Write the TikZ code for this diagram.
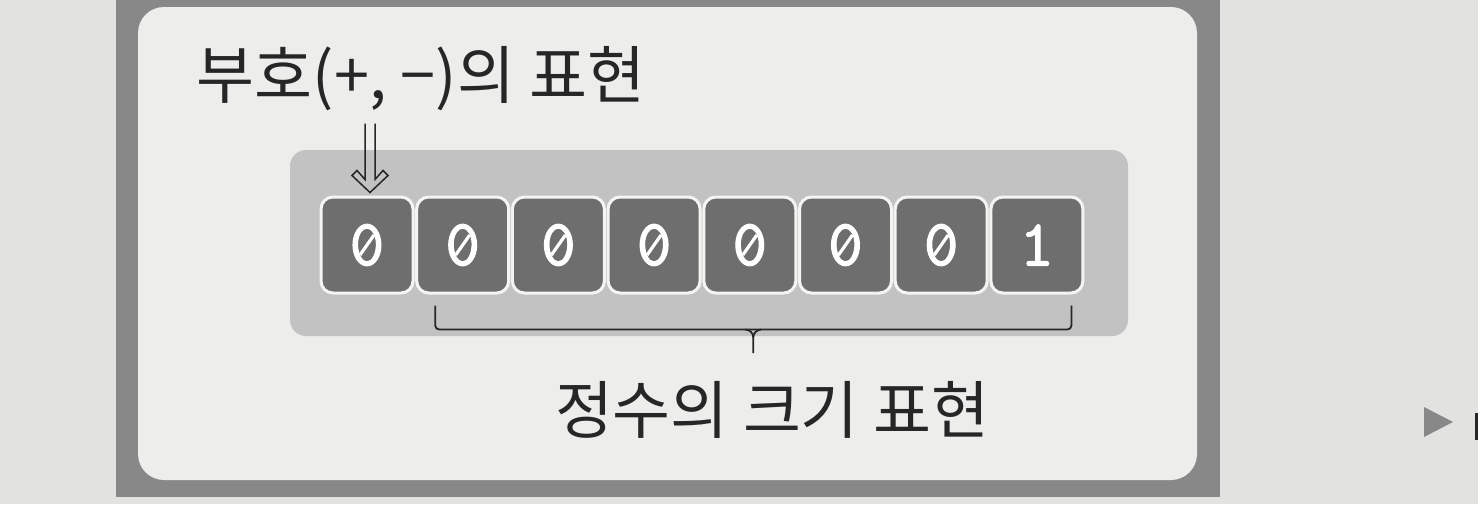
\documentclass[tikz,border=0pt]{standalone}
\usepackage{fontspec}
\newfontfamily\kr{Noto Sans CJK KR}
\newfontfamily\digits{lmmono10-regular}[Extension=.otf, FakeBold=1.6]
\usetikzlibrary{calc}
\definecolor{paper}{HTML}{E2E2E0}
\definecolor{framegray}{HTML}{888888}
\definecolor{panel}{HTML}{EDEDEB}
\definecolor{rim}{HTML}{F4F4F2}
\definecolor{bandgray}{HTML}{C2C2C2}
\definecolor{cellgray}{HTML}{6E6E6E}
\definecolor{ink}{HTML}{262626}
\tikzset{
  cell/.style={draw=rim, line width=1.5pt, fill=cellgray, rounded corners=6pt,
    minimum width=46pt, minimum height=48pt, inner sep=0pt,
    text=white, font=\digits\fontsize{33}{33}\selectfont},
  zslash/.style={draw=white, line width=1.6pt},
  label/.style={text=ink, inner sep=0pt, font=\kr\fontsize{31.5}{31.5}\selectfont},
  sign/.style={draw=ink, line width=0.75pt, line join=miter},
  bracket/.style={draw=ink, line width=0.9pt, rounded corners=2pt},
}
\begin{document}
\begin{tikzpicture}[x=0.5pt,y=-0.5pt]
\fill[paper] (0,0) rectangle (1478,504);
\useasboundingbox (0,0) rectangle (1478,504);
% outer frame and panel
\fill[framegray] (116,-10) rectangle (1220,497);
\fill[panel, rounded corners=13pt] (138,7) rectangle (1197,480);
% band
\fill[bandgray, rounded corners=8pt] (290,150) rectangle (1128,336);
% cells
\foreach \i/\d in {1/0,2/0,3/0,4/0,5/0,6/0,7/0,8/1}{
  \node[cell] (c\i) at ({367+95.7*(\i-1)},245) {\d};
}
\foreach \i in {1,...,7}{
  \draw[zslash] ($(c\i.center)+(-7,10)$) -- ($(c\i.center)+(7,-10)$);
}
% labels
\node[label] (top) at (421,79) {부호(+, −)의 표현};
\node[label] (bot) at (772,410) {정수의 크기 표현};
% sign arrow (hollow double arrow from label to first cell)
\coordinate (T) at ($(c1.north)+(3,-3)$);
\coordinate (S) at ($(T |- top.south)+(0,12)$);
\draw[sign] (S -| {$(T)+(-5,0)$}) -- ($(T)+(-5,-13)$) -- ($(T)+(-13,-22)$) -- ($(T)+(-18,-17)$)
  -- (T) -- ($(T)+(18,-17)$) -- ($(T)+(13,-22)$) -- ($(T)+(5,-13)$) -- (S -| {$(T)+(5,0)$});
% bracket
\coordinate (bl) at ($(c2.south west)+(20,11)$);
\coordinate (br) at ($(c8.south east)+(-13,11)$);
\coordinate (mid) at ($(bl)!0.5!(br)+(0,24)$);
\coordinate (tip) at ($(bot.north)+(-18,-28)$);
\draw[bracket] (bl) |- ($(br)+(0,24)$) -- (br);
\draw[draw=ink, line width=0.9pt] ($(mid)+(-8,0)$) to[out=0,in=90] ($(mid)+(0,8)$) -- (mid |- tip);
\draw[draw=ink, line width=0.9pt] ($(mid)+(8,0)$) to[out=180,in=90] ($(mid)+(0,8)$);
% page marks at right
\fill[framegray] (1424,407) -- (1453,422) -- (1424,437) -- cycle;
\fill[ink] (1475,413) rectangle (1478,440);
\end{tikzpicture}
\end{document}
